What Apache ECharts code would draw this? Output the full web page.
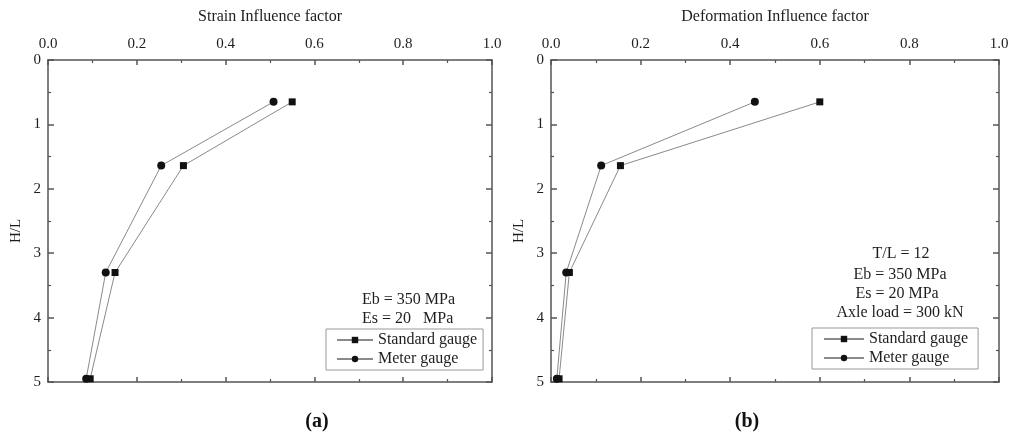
<!DOCTYPE html>
<html><head><meta charset="utf-8">
<script src="https://cdn.jsdelivr.net/npm/echarts@6/dist/echarts.min.js"></script>
<style>html,body{margin:0;padding:0;background:#fff}#c{width:1012px;height:437px}</style>
</head><body><div id="c"></div>
<script>
var depth = [0.65, 1.64, 3.3, 4.95];
var strainStandard = [0.55, 0.305, 0.151, 0.095];
var strainMeter = [0.508, 0.255, 0.13, 0.086];
var deformStandard = [0.6, 0.155, 0.041, 0.018];
var deformMeter = [0.455, 0.112, 0.034, 0.013];
var xTickLabels = ['0.0', '0.2', '0.4', '0.6', '0.8', '1.0'];
var yTickLabels = ['0', '1', '2', '3', '4', '5'];

var FONT = 'Liberation Serif';
var TXT = '#1e1e1e';
var AX = '#555';

function pairs(xs) { return xs.map(function (v, i) { return [v, depth[i]]; }); }

function xAxisDef(grid, pos, showLabel, name) {
  return {
    type: 'value', gridIndex: grid, position: pos, min: 0, max: 1, interval: 0.2,
    name: name || '', nameLocation: 'middle', nameGap: 35,
    nameTextStyle: { fontFamily: FONT, fontSize: 16, color: TXT },
    axisLine: { show: true, onZero: false, lineStyle: { color: AX, width: 1.5 } },
    axisTick: { show: true, inside: true, length: 5, lineStyle: { color: AX, width: 1.5 } },
    minorTick: { show: true, splitNumber: 2, length: 3, lineStyle: { color: AX, width: 1.2 } },
    axisLabel: { show: showLabel, margin: 8, fontFamily: FONT, fontSize: 15, color: TXT,
      formatter: function (v) { return xTickLabels[Math.round(v / 0.2)]; } },
    splitLine: { show: false }
  };
}
function yAxisDef(grid, pos, showLabel, name) {
  return {
    type: 'value', gridIndex: grid, position: pos, min: 0, max: 5, interval: 1, inverse: true,
    name: name || '', nameLocation: 'middle', nameGap: 24, nameRotate: 90,
    nameTextStyle: { fontFamily: FONT, fontSize: 15, color: TXT, padding: [0, 20, 0, 0] },
    axisLine: { show: true, onZero: false, lineStyle: { color: AX, width: 1.5 } },
    axisTick: { show: true, inside: true, length: 6, lineStyle: { color: AX, width: 1.5 } },
    minorTick: { show: true, splitNumber: 2, length: 3, lineStyle: { color: AX, width: 1.2 } },
    axisLabel: { show: showLabel, margin: 7, fontFamily: FONT, fontSize: 15, color: TXT,
      formatter: function (v) { return yTickLabels[Math.round(v)]; } },
    splitLine: { show: false }
  };
}
function lineSeries(name, xi, yi, xs, sym, size) {
  return {
    type: 'line', name: name, xAxisIndex: xi, yAxisIndex: yi, data: pairs(xs),
    symbol: sym, symbolSize: size, showSymbol: true,
    lineStyle: { color: '#8a8a8a', width: 1 },
    itemStyle: { color: '#111' },
    animation: false, z: 3
  };
}
function legendDef(left, top, seriesNames, itemW, padL) {
  return {
    orient: 'vertical', left: left, top: top, data: seriesNames,
    itemWidth: itemW, itemHeight: 8, itemGap: 3,
    padding: [3, 6, 3, padL],
    borderColor: '#999', borderWidth: 1, backgroundColor: '#fff',
    textStyle: { fontFamily: FONT, fontSize: 16, color: TXT },
    selectedMode: false
  };
}

var chart = echarts.init(document.getElementById('c'), null, { renderer: 'canvas' });
var F16 = '16px "Liberation Serif"';
var option = {
  backgroundColor: '#fff',
  animation: false,
  grid: [
    { left: 48, top: 60, width: 444, height: 322 },
    { left: 551, top: 60, width: 448, height: 322 }
  ],
  xAxis: [
    xAxisDef(0, 'top', true, 'Strain Influence factor'),
    xAxisDef(0, 'bottom', false),
    xAxisDef(1, 'top', true, 'Deformation Influence factor'),
    xAxisDef(1, 'bottom', false)
  ],
  yAxis: [
    yAxisDef(0, 'left', true, 'H/L'),
    yAxisDef(0, 'right', false),
    yAxisDef(1, 'left', true, 'H/L'),
    yAxisDef(1, 'right', false)
  ],
  legend: [
    legendDef(326, 329, [{ name: 'Standard gauge' }, { name: 'Meter gauge' }], 36, 10),
    legendDef(812, 328, [{ name: 'Standard gauge ' }, { name: 'Meter gauge ' }], 40, 11)
  ],
  series: [
    lineSeries('Standard gauge', 0, 0, strainStandard, 'rect', 7),
    lineSeries('Meter gauge', 0, 0, strainMeter, 'circle', 8),
    lineSeries('Standard gauge ', 2, 2, deformStandard, 'rect', 7),
    lineSeries('Meter gauge ', 2, 2, deformMeter, 'circle', 8)
  ],
  graphic: [
    { type: 'text', x: 362, y: 300, style: { text: 'Eb = 350 MPa', font: F16, fill: TXT, verticalAlign: 'middle' } },
    { type: 'text', x: 362, y: 319, style: { text: 'Es = 20   MPa', font: F16, fill: TXT, verticalAlign: 'middle' } },
    { type: 'text', x: 901, y: 254, style: { text: 'T/L = 12', font: F16, fill: TXT, align: 'center', verticalAlign: 'middle' } },
    { type: 'text', x: 900, y: 275, style: { text: 'Eb = 350 MPa', font: F16, fill: TXT, align: 'center', verticalAlign: 'middle' } },
    { type: 'text', x: 897, y: 294, style: { text: 'Es = 20 MPa', font: F16, fill: TXT, align: 'center', verticalAlign: 'middle' } },
    { type: 'text', x: 900, y: 313, style: { text: 'Axle load = 300 kN', font: F16, fill: TXT, align: 'center', verticalAlign: 'middle' } },
    { type: 'text', x: 317, y: 422, style: { text: '(a)', font: 'bold 20px "Liberation Serif"', fill: '#111', align: 'center', verticalAlign: 'middle' } },
    { type: 'text', x: 747, y: 422, style: { text: '(b)', font: 'bold 20px "Liberation Serif"', fill: '#111', align: 'center', verticalAlign: 'middle' } }
  ]
};
chart.setOption(option);
</script></body></html>
